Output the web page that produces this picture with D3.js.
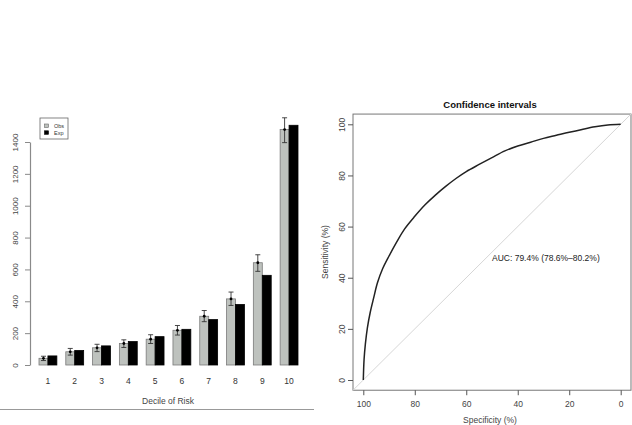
<!DOCTYPE html>
<html>
<head>
<meta charset="utf-8">
<script src="https://cdn.jsdelivr.net/npm/d3@7"></script>
<style>
  body { margin: 0; background: #fff; }
  svg { display: block; font-family: "Liberation Sans", Arial, sans-serif; }
</style>
</head>
<body>
<svg id="chart" width="632" height="425"></svg>
<script>
// left panel: observed vs expected by decile
var deciles = ['1', '2', '3', '4', '5', '6', '7', '8', '9', '10'];
var series = ['Obs', 'Exp'];
var obs = [42, 83, 108, 135, 162, 218, 306, 415, 642, 1478];
var exp = [57, 91, 120, 147, 178, 224, 285, 380, 563, 1505];
var obsLow = [28, 62, 84, 110, 135, 188, 272, 374, 588, 1396];
var obsHigh = [55, 104, 130, 158, 190, 248, 342, 458, 692, 1552];
var barTicks = [0, 200, 400, 600, 800, 1000, 1200, 1400];

// right panel: ROC curve (specificity %, sensitivity %)
var rocSpec = [100, 99.7, 99.2, 98.4, 97.3, 96, 94.5, 92.5, 90, 87, 84, 80, 76, 72, 68, 64, 60, 55, 50, 45, 40, 35, 30, 25, 20, 15, 10, 5, 0];
var rocSens = [0, 8, 14, 20.5, 26.5, 32, 38, 43.5, 48.5, 54, 59, 64, 68.5, 72.3, 75.7, 78.8, 81.5, 84.3, 87, 89.6, 91.5, 93, 94.5, 95.7, 96.9, 98, 99, 99.7, 100];
var rocTicks = [0, 20, 40, 60, 80, 100];
var aucLabel = 'AUC: 79.4% (78.6%\u201380.2%)';

var svg = d3.select('#chart');
var axisCol = '#8a8a8a', textCol = '#444';

// ---------- bar chart ----------
var x0 = d3.scaleBand().domain(deciles).range([39, 298]).paddingInner(1 / 3).paddingOuter(0);
var x1 = d3.scaleBand().domain(series).range([0, x0.bandwidth()]);
var y = d3.scaleLinear().domain([0, 1400]).range([365, 142]);
var fills = { Obs: '#bec2be', Exp: '#000' };

var rows = deciles.map(function(d, i) {
  return { d: d, Obs: obs[i], Exp: exp[i], lo: obsLow[i], hi: obsHigh[i] };
});

var grp = svg.append('g').selectAll('g').data(rows).enter().append('g')
  .attr('transform', function(r) { return 'translate(' + x0(r.d) + ',0)'; });

grp.selectAll('rect').data(function(r) {
  return series.map(function(s) { return { s: s, v: r[s] }; });
}).enter().append('rect')
  .attr('x', function(b) { return x1(b.s); })
  .attr('y', function(b) { return y(b.v); })
  .attr('width', x1.bandwidth())
  .attr('height', function(b) { return y(0) - y(b.v); })
  .attr('fill', function(b) { return fills[b.s]; })
  .attr('stroke', function(b) { return b.s == 'Obs' ? '#7a7a7a' : '#000'; })
  .attr('stroke-width', 0.8);

// error bars on observed
var cx = x1('Obs') + x1.bandwidth() / 2;
grp.append('line').attr('x1', cx).attr('x2', cx)
  .attr('y1', function(r) { return y(r.lo); }).attr('y2', function(r) { return y(r.hi); })
  .attr('stroke', '#333').attr('stroke-width', 0.9);
grp.append('line').attr('x1', cx - 2.5).attr('x2', cx + 2.5)
  .attr('y1', function(r) { return y(r.hi); }).attr('y2', function(r) { return y(r.hi); })
  .attr('stroke', '#333').attr('stroke-width', 0.9);
grp.append('line').attr('x1', cx - 2.5).attr('x2', cx + 2.5)
  .attr('y1', function(r) { return y(r.lo); }).attr('y2', function(r) { return y(r.lo); })
  .attr('stroke', '#333').attr('stroke-width', 0.9);
grp.append('circle').attr('cx', cx).attr('cy', function(r) { return y(r.Obs); })
  .attr('r', 1.4).attr('fill', '#000');

// y axis with rotated labels
var yAx = svg.append('g').attr('transform', 'translate(30,0)')
  .call(d3.axisLeft(y).tickValues(barTicks).tickFormat(d3.format('d')).tickSize(5).tickSizeOuter(0));
yAx.select('.domain').attr('stroke', axisCol).attr('stroke-width', 1.2);
yAx.selectAll('line').attr('stroke', axisCol);
yAx.selectAll('text').attr('transform', 'rotate(-90)').attr('x', 0).attr('y', -12)
  .attr('dy', 0).attr('text-anchor', 'middle').attr('fill', textCol)
  .style('font-size', '8px').style('font-family', 'Liberation Sans, Arial, sans-serif');

// decile labels
svg.append('g').selectAll('text').data(deciles).enter().append('text')
  .attr('x', function(d) { return x0(d) + x0.bandwidth() / 2; })
  .attr('y', 384).attr('text-anchor', 'middle')
  .attr('font-size', 8.5).attr('fill', '#333').text(function(d) { return d; });

svg.append('text').attr('x', 168).attr('y', 404).attr('text-anchor', 'middle')
  .attr('font-size', 8.5).attr('fill', textCol).text('Decile of Risk');

// legend
var leg = svg.append('g');
leg.append('rect').attr('x', 40).attr('y', 118).attr('width', 28).attr('height', 21)
  .attr('fill', '#fff').attr('stroke', '#666').attr('stroke-width', 0.8);
series.forEach(function(s, i) {
  leg.append('rect').attr('x', 44.5).attr('y', 124 + i * 6.8).attr('width', 4).attr('height', 3.5)
    .attr('fill', fills[s]).attr('stroke', s == 'Obs' ? '#666' : '#000').attr('stroke-width', 0.6);
  leg.append('text').attr('x', 54).attr('y', 128 + i * 6.8)
    .attr('font-size', 5.5).attr('fill', '#333').text(s);
});

// bottom rule under the left panel
svg.append('line').attr('x1', 0).attr('x2', 314).attr('y1', 409.5).attr('y2', 409.5)
  .attr('stroke', '#999').attr('stroke-width', 1);

// ---------- ROC panel ----------
var sx = d3.scaleLinear().domain([100, 0]).range([363.3, 620.7]);
var sy = d3.scaleLinear().domain([0, 100]).range([380, 124.3]);

svg.append('rect').attr('x', sx(104)).attr('y', sy(104))
  .attr('width', sx(-4) - sx(104)).attr('height', sy(-4) - sy(104))
  .attr('fill', 'none').attr('stroke', '#777').attr('stroke-width', 1);

svg.append('line').attr('x1', sx(104)).attr('y1', sy(-4)).attr('x2', sx(-4)).attr('y2', sy(104))
  .attr('stroke', '#d6d6d6').attr('stroke-width', 1);

var roc = rocSpec.map(function(s, i) { return [s, rocSens[i]]; });
svg.append('path').datum(roc)
  .attr('d', d3.line().x(function(p) { return sx(p[0]); }).y(function(p) { return sy(p[1]); }).curve(d3.curveCatmullRom.alpha(0.5)))
  .attr('fill', 'none').attr('stroke', '#222').attr('stroke-width', 1.5);

var xAx = svg.append('g').attr('transform', 'translate(0,' + sy(-4) + ')')
  .call(d3.axisBottom(sx).tickValues(rocTicks).tickSize(5).tickSizeOuter(0));
xAx.select('.domain').remove();
xAx.selectAll('line').attr('stroke', '#555');
xAx.selectAll('text').attr('y', 11).attr('fill', textCol)
  .style('font-size', '8.5px').style('font-family', 'Liberation Sans, Arial, sans-serif');

var yAx2 = svg.append('g').attr('transform', 'translate(' + sx(104) + ',0)')
  .call(d3.axisLeft(sy).tickValues(rocTicks).tickSize(5).tickSizeOuter(0));
yAx2.select('.domain').remove();
yAx2.selectAll('line').attr('stroke', '#555');
yAx2.selectAll('text').attr('transform', 'rotate(-90)').attr('x', 0).attr('y', -8.5)
  .attr('dy', 0).attr('text-anchor', 'middle').attr('fill', textCol)
  .style('font-size', '8.5px').style('font-family', 'Liberation Sans, Arial, sans-serif');

svg.append('text').attr('x', 490).attr('y', 108).attr('text-anchor', 'middle')
  .attr('font-size', 9.5).attr('font-weight', 'bold').attr('fill', '#111').text('Confidence intervals');

svg.append('text').attr('x', 490).attr('y', 423).attr('text-anchor', 'middle')
  .attr('font-size', 8.5).attr('fill', textCol).text('Specificity (%)');

svg.append('text').attr('transform', 'translate(328,252) rotate(-90)').attr('text-anchor', 'middle')
  .attr('font-size', 8.5).attr('fill', textCol).text('Sensitivity (%)');

svg.append('text').attr('x', sx(50)).attr('y', sy(50) + 9)
  .attr('font-size', 8.5).attr('fill', '#222').text(aucLabel);
</script>
</body>
</html>
